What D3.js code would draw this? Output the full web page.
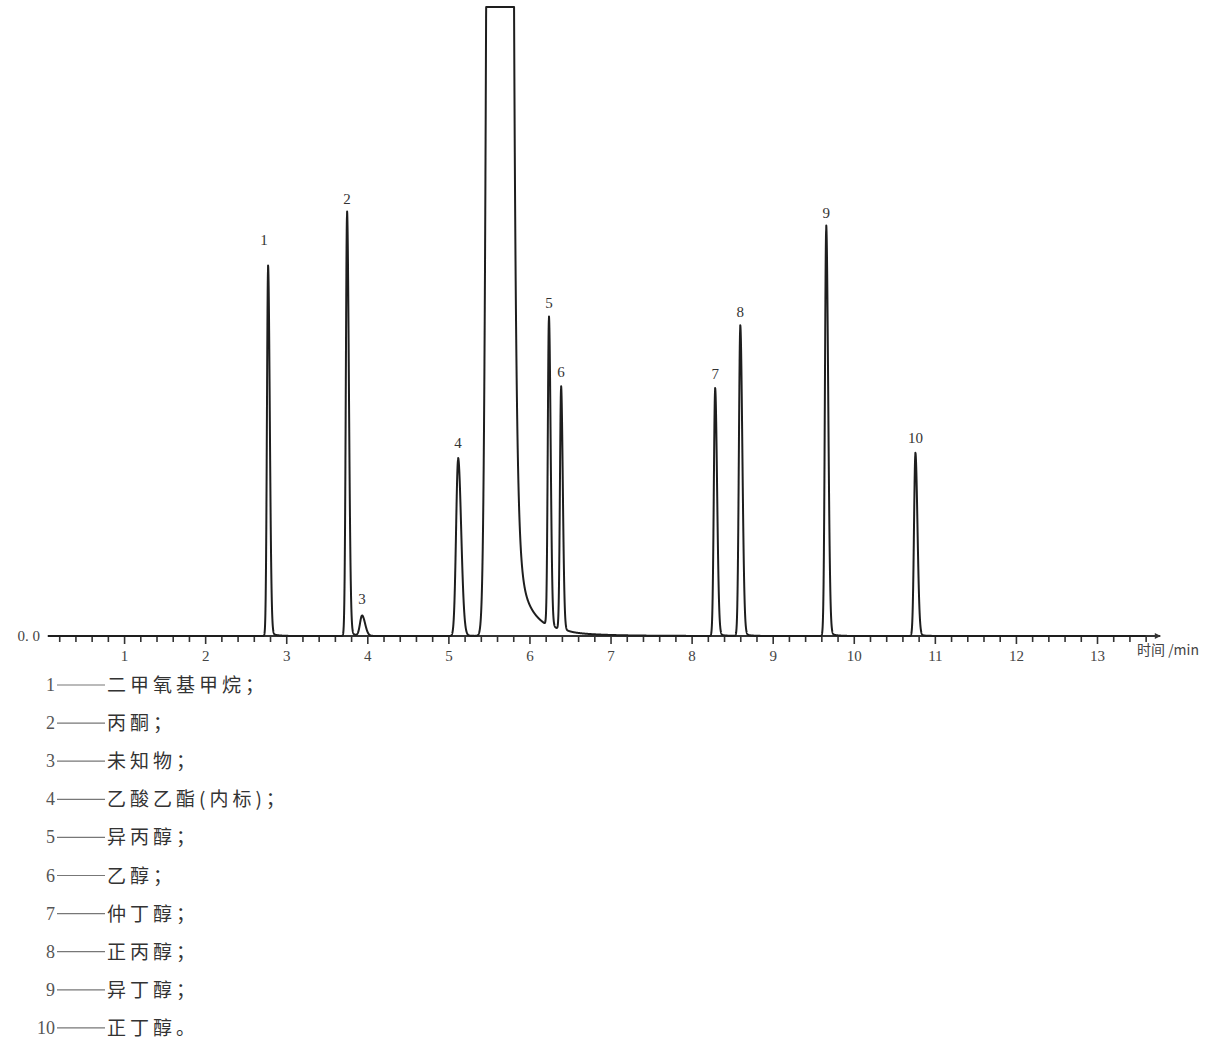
<!DOCTYPE html>
<html>
<head>
<meta charset="utf-8">
<script src="https://cdn.jsdelivr.net/npm/d3@7"></script>
<style>
  body { margin: 0; background: #fff; }
  svg { display: block; }
</style>
</head>
<body>
<div id="chart"></div>
<script>
// peaks (time in min, height in detector units)
var peakIds     = ["1", "2", "3", "4", "5", "6", "7", "8", "9", "10"];
var peakTimes   = [2.776, 3.75, 3.935, 5.12, 6.24, 6.39, 8.29, 8.60, 9.66, 10.76];
var peakHeights = [366, 420, 20, 176, 306, 241, 245, 307, 406, 181];
var peakWidths  = [0.014, 0.015, 0.025, 0.025, 0.014, 0.014, 0.016, 0.017, 0.016, 0.017];

// solvent (water) peak, runs off scale
var solventRiseTime = 5.52, solventRiseWidth = 0.04, solventLevel = 1590;
var solventFallTime = 5.81;
var solventTailAmps = [545, 70, 14];
var solventTailTaus = [0.03, 0.16, 0.45];

var compoundNames = ["二甲氧基甲烷；", "丙酮；", "未知物；", "乙酸乙酯(内标)；", "异丙醇；",
                     "乙醇；", "仲丁醇；", "正丙醇；", "异丁醇；", "正丁醇。"];

var tickLabels = [1, 2, 3, 4, 5, 6, 7, 8, 9, 10, 11, 12, 13];
var yTop = 629;

// canvas
var w = 1231, h = 1043;
var svg = d3.select("#chart").append("svg").attr("width", w).attr("height", h);

var xScale = d3.scaleLinear().domain([0, 13]).range([43, 1097]);
var yScale = d3.scaleLinear().domain([0, yTop]).range([636, 7]);

function signal(t) {
    var v = 0;
    for (var i = 0; i < peakTimes.length; i++) {
        var d = t - peakTimes[i];
        var s = d < 0 ? peakWidths[i] : peakWidths[i] * 1.5;
        v += peakHeights[i] * Math.exp(-d * d / (2 * s * s));
        if (d > 0) v += peakHeights[i] * 0.012 * Math.exp(-d / 0.07);
    }
    if (t < solventRiseTime) {
        var ds = t - solventRiseTime;
        v += solventLevel * Math.exp(-ds * ds / (2 * solventRiseWidth * solventRiseWidth));
    } else if (t < solventFallTime) {
        v += solventLevel;
    } else {
        var df = t - solventFallTime;
        for (var k = 0; k < solventTailAmps.length; k++)
            v += solventTailAmps[k] * Math.exp(-df / solventTailTaus[k]);
    }
    return Math.min(v, yTop);
}

var trace = d3.range(0.06, 13.6, 0.001).map(function(t) { return [t, signal(t)]; });

var line = d3.line()
    .x(function(d) { return xScale(d[0]); })
    .y(function(d) { return yScale(d[1]); });

// axis: minor ticks every 0.2 min, labelled majors
var minorTicks = d3.range(0.2, 13.7, 0.2).filter(function(t) { return Math.abs(t - Math.round(t)) > 0.01; });

svg.append("g")
    .attr("transform", "translate(0," + yScale(0) + ")")
    .call(d3.axisBottom(xScale).tickValues(minorTicks).tickSize(6).tickFormat(""))
    .call(function(g) { g.select(".domain").remove(); })
    .selectAll("line").attr("stroke", "#333").attr("stroke-width", 1.6);

var xAxis = svg.append("g")
    .attr("transform", "translate(0," + yScale(0) + ")")
    .call(d3.axisBottom(xScale).tickValues(tickLabels).tickSize(8).tickPadding(6).tickFormat(d3.format("d")));
xAxis.select(".domain").remove();
xAxis.selectAll("line").attr("stroke", "#333").attr("stroke-width", 1.6);
xAxis.selectAll("text")
    .attr("fill", "#444")
    .style("font-family", "'Liberation Serif', 'DejaVu Serif', serif")
    .style("font-size", "15px");

// axis line with arrow
svg.append("defs").append("marker")
    .attr("id", "arrow")
    .attr("viewBox", "0 0 10 10")
    .attr("refX", 9).attr("refY", 5)
    .attr("markerWidth", 12).attr("markerHeight", 6)
    .attr("markerUnits", "userSpaceOnUse")
    .attr("orient", "auto")
    .append("path").attr("d", "M0,0 L10,5 L0,10 Z").attr("fill", "#333");

svg.append("line")
    .attr("x1", xScale(0.06)).attr("x2", xScale(13.78))
    .attr("y1", yScale(0)).attr("y2", yScale(0))
    .attr("stroke", "#333").attr("stroke-width", 2)
    .attr("marker-end", "url(#arrow)");

svg.append("text")
    .attr("x", 40).attr("y", yScale(0) + 5)
    .attr("text-anchor", "end")
    .attr("fill", "#444")
    .style("font-family", "'Liberation Serif', serif")
    .style("font-size", "15px")
    .text("0. 0");

svg.append("text")
    .attr("x", 1137).attr("y", yScale(0) + 19)
    .attr("fill", "#444")
    .style("font-family", "'Noto Sans CJK SC', sans-serif")
    .style("font-size", "14px")
    .text("时间 /min");

// chromatogram trace
svg.append("path")
    .datum(trace)
    .attr("fill", "none")
    .attr("stroke", "#1e1e1e")
    .attr("stroke-width", 2)
    .attr("stroke-linejoin", "round")
    .attr("d", line);

// peak numbers
svg.selectAll("text.peak")
    .data(peakIds)
    .enter()
    .append("text")
    .attr("class", "peak")
    .attr("x", function(d, i) { return xScale(peakTimes[i]) - (d === "1" ? 4 : 0); })
    .attr("y", function(d, i) { return yScale(signal(peakTimes[i])) - (d === "1" ? 25 : 12); })
    .attr("text-anchor", "middle")
    .attr("fill", "#333")
    .style("font-family", "'Liberation Serif', 'DejaVu Serif', serif")
    .style("font-size", "15px")
    .text(function(d) { return d; });

// key below the chart
var key = svg.selectAll("g.key")
    .data(compoundNames)
    .enter()
    .append("g")
    .attr("class", "key")
    .attr("transform", function(d, i) { return "translate(0," + (685 + i * 38.1) + ")"; });

key.append("text")
    .attr("x", 55).attr("y", 6)
    .attr("text-anchor", "end")
    .attr("fill", "#555")
    .style("font-family", "'Liberation Serif', serif")
    .style("font-size", "18px")
    .text(function(d, i) { return peakIds[i]; });

key.append("line")
    .attr("x1", 57).attr("x2", 105)
    .attr("y1", 0).attr("y2", 0)
    .attr("stroke", "#777").attr("stroke-width", 1.2);

key.append("text")
    .attr("x", 107).attr("y", 7)
    .attr("fill", "#333")
    .style("font-family", "'Noto Sans CJK SC', sans-serif")
    .style("font-size", "19px")
    .style("letter-spacing", "4px")
    .text(function(d) { return d; });
</script>
</body>
</html>
